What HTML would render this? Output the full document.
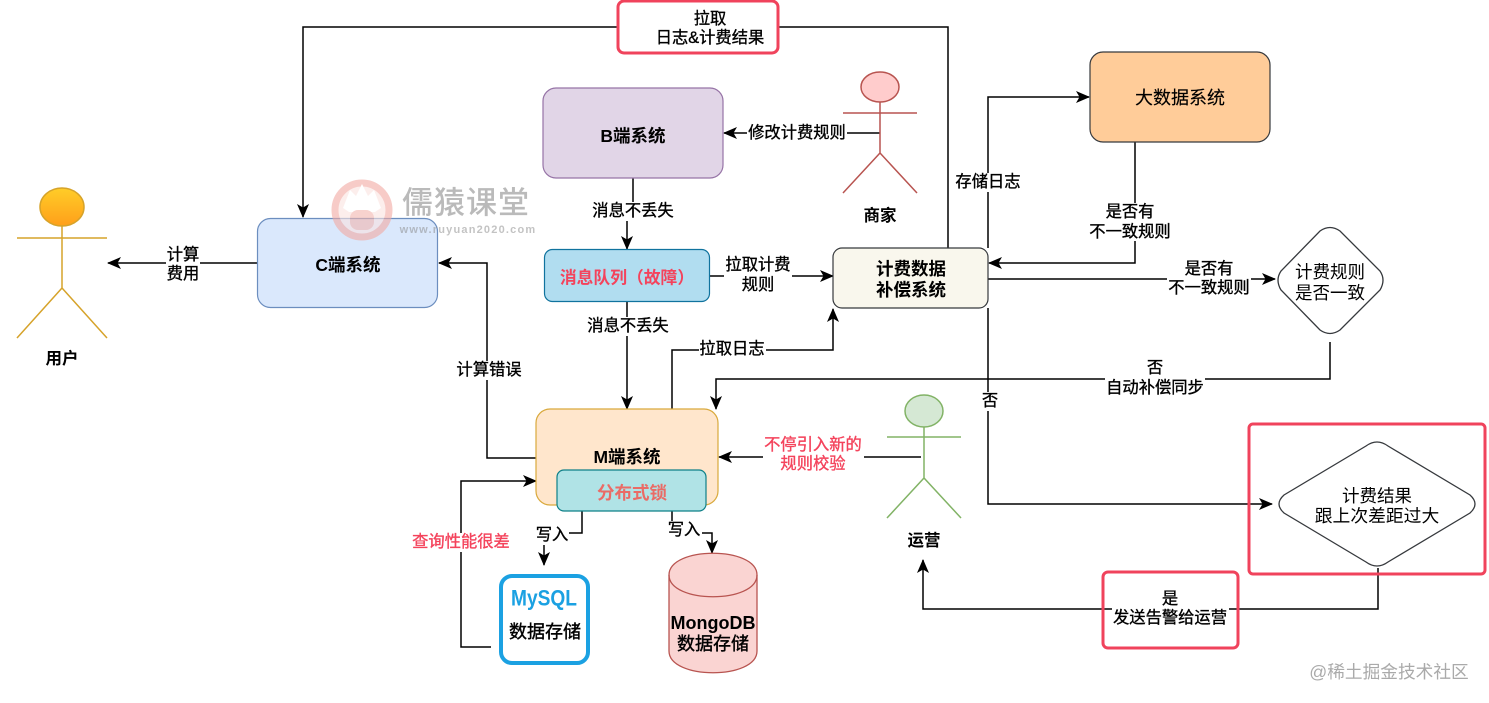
<!DOCTYPE html>
<html><head><meta charset="utf-8"><style>
html,body{margin:0;padding:0;background:#fff}
svg{display:block}
text{font-family:"Liberation Sans","Noto Sans CJK SC",sans-serif;font-size:17.500px;text-anchor:middle;fill:#000;dominant-baseline:central;transform:translateY(2px)}
.b{font-weight:bold}
.m{font-size:16.300px;stroke:#000;stroke-width:.35px}
.l{fill:none;stroke:#000;stroke-width:1.5}
.bg{fill:#fff}
.r{fill:#f4435c;stroke:#f4435c}
.red{fill:none;stroke:#f0435c;stroke-width:3}
</style></head><body>
<svg width="1489" height="703" viewBox="0 0 1489 703" xmlns="http://www.w3.org/2000/svg">
<defs>
<marker id="a" markerUnits="userSpaceOnUse" markerWidth="14" markerHeight="12" refX="13" refY="6" orient="auto"><path d="M0 0L14 6L0 12L3.5 6Z" fill="#000"/></marker>
<linearGradient id="o" x1="0" y1="0" x2="0" y2="1"><stop offset="0" stop-color="#ffcd28"/><stop offset="1" stop-color="#ff9f1a"/></linearGradient>
</defs>

<!-- connectors -->
<path class="l" marker-end="url(#a)" d="M948 248V27H303V217"/>
<path class="l" marker-end="url(#a)" d="M257 263H108"/>
<path class="l" marker-end="url(#a)" d="M880 133H724"/>
<path class="l" d="M633 178V220"/>
<path class="l" marker-end="url(#a)" d="M627 220V249"/>
<path class="l" marker-end="url(#a)" d="M627 302V409"/>
<path class="l" marker-end="url(#a)" d="M710 276H833"/>
<path class="l" marker-end="url(#a)" d="M536 458H487V263H439"/>
<path class="l" marker-end="url(#a)" d="M672 409V350H833V309"/>
<path class="l" marker-end="url(#a)" d="M988 248V97H1089"/>
<path class="l" marker-end="url(#a)" d="M1135 142V263H989"/>
<path class="l" marker-end="url(#a)" d="M988 279H1275"/>
<path class="l" marker-end="url(#a)" d="M1330 342V379H716V409"/>
<path class="l" marker-end="url(#a)" d="M988 308V504H1272"/>
<path class="l" marker-end="url(#a)" d="M1378 568V609H923V560"/>
<path class="l" marker-end="url(#a)" d="M921 457H719"/>
<path class="l" marker-end="url(#a)" d="M582 511V533H544V565"/>
<path class="l" marker-end="url(#a)" d="M672 511V533H712V553"/>
<path class="l" marker-end="url(#a)" d="M491 647H461V481H536"/>

<!-- user -->
<g fill="none" stroke="#d6a32a" stroke-width="1.5">
<path d="M62 226V288M17 238H107M17 338L62 288L107 338"/>
<ellipse cx="62" cy="207" rx="22" ry="19" fill="url(#o)"/>
</g>
<text class="b" x="62" y="357" style="font-size:16.500px">用户</text>

<!-- merchant -->
<g fill="none" stroke="#b85450" stroke-width="1.5">
<path d="M880 102V153M843 113H917M843 193L880 153L917 193"/>
<ellipse cx="880" cy="87" rx="19" ry="15" fill="#ffcccc"/>
</g>
<text class="b" x="880" y="214" style="font-size:16.500px">商家</text>

<!-- ops -->
<g fill="none" stroke="#82b366" stroke-width="1.5">
<path d="M924 427V478M887 437H961M887 518L924 478L961 518"/>
<ellipse cx="924" cy="411" rx="19" ry="16" fill="#d5e8d4"/>
</g>
<text class="b" x="924" y="539" style="font-size:16.500px">运营</text>

<!-- boxes -->
<rect x="257.500" y="218.500" width="180" height="89" rx="13" fill="#dae8fc" stroke="#6c8ebf" stroke-width="1.2"/>
<text class="b" x="348" y="263">C端系统</text>
<rect x="543" y="88" width="180" height="90" rx="13" fill="#e1d5e7" stroke="#9673a6" stroke-width="1.2"/>
<text class="b" x="633" y="134">B端系统</text>
<rect x="544.500" y="249.500" width="165" height="52" rx="8" fill="#b1ddf0" stroke="#10739e" stroke-width="1.2"/>
<text class="b" x="627" y="276" style="fill:#f4435c;font-size:16.800px">消息队列（故障）</text>
<rect x="536" y="409" width="182" height="96" rx="14" fill="#ffe6cc" stroke="#d9a93c" stroke-width="1.2"/>
<text class="b" x="627" y="455">M端系统</text>
<rect x="557" y="470" width="149" height="41" rx="7" fill="#b0e3e6" stroke="#0e8088" stroke-width="1.2"/>
<text class="b" x="632" y="491" style="fill:#ea6b66">分布式锁</text>
<rect x="833" y="248" width="155" height="60" rx="9" fill="#f9f7ed" stroke="#36393d" stroke-width="1.2"/>
<text class="b" x="911" y="267">计费数据</text>
<text class="b" x="911" y="288">补偿系统</text>
<rect x="1090" y="52" width="180" height="90" rx="13" fill="#ffcc99" stroke="#36393d" stroke-width="1.2"/>
<text x="1180" y="96" style="font-size:18px;stroke:#000;stroke-width:.15px">大数据系统</text>

<!-- diamonds -->
<path d="M1320 231Q1330 224 1340 231L1380 271Q1386 280 1380 290L1340 330Q1330 337 1320 330L1281 290Q1275 280 1281 271Z" fill="#fff" stroke="#36393d" stroke-width="1.3"/>
<text x="1330" y="270">计费规则</text>
<text x="1330" y="291">是否一致</text>
<path d="M1366 446Q1377 438 1388 446L1470 495Q1480 504 1470 513L1388 562Q1377 570 1366 562L1284 513Q1274 504 1284 495Z" fill="#fff" stroke="#36393d" stroke-width="1.3"/>
<text x="1377" y="494">计费结果</text>
<text x="1377" y="514" style="font-size:17.800px">跟上次差距过大</text>

<rect class="red" x="1249" y="424" width="236" height="150" rx="4"/>
<rect class="bg" x="618" y="1" width="160" height="52" rx="6"/>
<rect class="red" x="618" y="1" width="160" height="52" rx="6"/>
<text class="m" x="710" y="17">拉取</text>
<text class="m" x="710" y="36">日志&amp;计费结果</text>

<rect class="red" x="1103" y="572" width="135" height="76" rx="5"/>
<rect class="bg" x="1112" y="590" width="117" height="38"/>
<text class="m" x="1170" y="597">是</text>
<text class="m" x="1170" y="616">发送告警给运营</text>

<!-- mysql -->
<rect x="501" y="576" width="87" height="87" rx="11" fill="#fff" stroke="#1ba1e2" stroke-width="4"/>
<text class="b" x="544" y="596" textLength="66" lengthAdjust="spacingAndGlyphs" style="fill:#1ba1e2;font-size:22px">MySQL</text>
<text x="545" y="630" style="font-size:18px;stroke:#000;stroke-width:.4px">数据存储</text>

<!-- mongo -->
<path d="M669 575C669 546 757 546 757 575V651C757 680 669 680 669 651Z" fill="#fad4d2" stroke="#b85450" stroke-width="1.3"/>
<path d="M669 575C669 604 757 604 757 575" fill="none" stroke="#b85450" stroke-width="1.3"/>
<text class="b" x="713" y="621" style="font-size:18px">MongoDB</text>
<text x="713" y="642" style="font-size:18px;stroke:#000;stroke-width:.4px">数据存储</text>

<!-- edge labels -->
<rect class="bg" x="166" y="245" width="34" height="38"/>
<text class="m" x="183" y="253">计算</text><text class="m" x="183" y="272">费用</text>
<rect class="bg" x="747" y="124" width="100" height="19"/>
<text class="m" x="797" y="131">修改计费规则</text>
<rect class="bg" x="591" y="202" width="84" height="19"/>
<text class="m" x="633" y="209">消息不丢失</text>
<rect class="bg" x="587" y="317" width="84" height="19"/>
<text class="m" x="628" y="324">消息不丢失</text>
<rect class="bg" x="724" y="256" width="68" height="38"/>
<text class="m" x="758" y="263">拉取计费</text><text class="m" x="758" y="283">规则</text>
<rect class="bg" x="456" y="361" width="67" height="19"/>
<text class="m" x="489" y="368">计算错误</text>
<rect class="bg" x="699" y="340" width="67" height="19"/>
<text class="m" x="732" y="347">拉取日志</text>
<rect class="bg" x="955" y="173" width="67" height="19"/>
<text class="m" x="988" y="180">存储日志</text>
<rect class="bg" x="1096" y="203" width="84" height="38"/>
<text class="m" x="1130" y="210">是否有</text><text class="m" x="1130" y="230">不一致规则</text>
<rect class="bg" x="1167" y="260" width="84" height="38"/>
<text class="m" x="1209" y="267">是否有</text><text class="m" x="1209" y="286">不一致规则</text>
<rect class="bg" x="1105" y="360" width="100" height="38"/>
<text class="m" x="1155" y="366">否</text><text class="m" x="1155" y="386">自动补偿同步</text>
<rect class="bg" x="981" y="392" width="18" height="19"/>
<text class="m" x="990" y="399">否</text>
<rect class="bg" x="763" y="436" width="101" height="38"/>
<text class="m r" x="813" y="443">不停引入新的</text><text class="m r" x="813" y="462">规则校验</text>
<rect class="bg" x="535" y="526" width="34" height="19"/>
<text class="m" x="552" y="533">写入</text>
<rect class="bg" x="667" y="521" width="35" height="19"/>
<text class="m" x="684" y="528">写入</text>
<rect class="bg" x="410" y="533" width="101" height="19"/>
<text class="m r" x="461" y="540">查询性能很差</text>

<!-- watermarks -->
<g opacity="0.6">
<circle cx="362" cy="210" r="27" fill="#fbe3e0" stroke="#f2a9a3" stroke-width="7"/>
<path d="M343 208L350 190L356 196L362 184L368 196L374 190L381 208L375 212H349Z" fill="#fff"/>
<rect x="350" y="210" width="24" height="20" rx="8" fill="#f2b5ae"/>
</g>
<g opacity="0.5">
<text x="466" y="201" style="font-size:31px;fill:#777;letter-spacing:1px;font-weight:500">儒猿课堂</text>
<text x="468" y="228" style="font-size:11px;fill:#888;letter-spacing:1.2px;font-weight:bold">www.ruyuan2020.com</text>
</g>
<text x="1389" y="670" style="font-size:17.700px;fill:#aaa">@稀土掘金技术社区</text>
</svg>
</body></html>
